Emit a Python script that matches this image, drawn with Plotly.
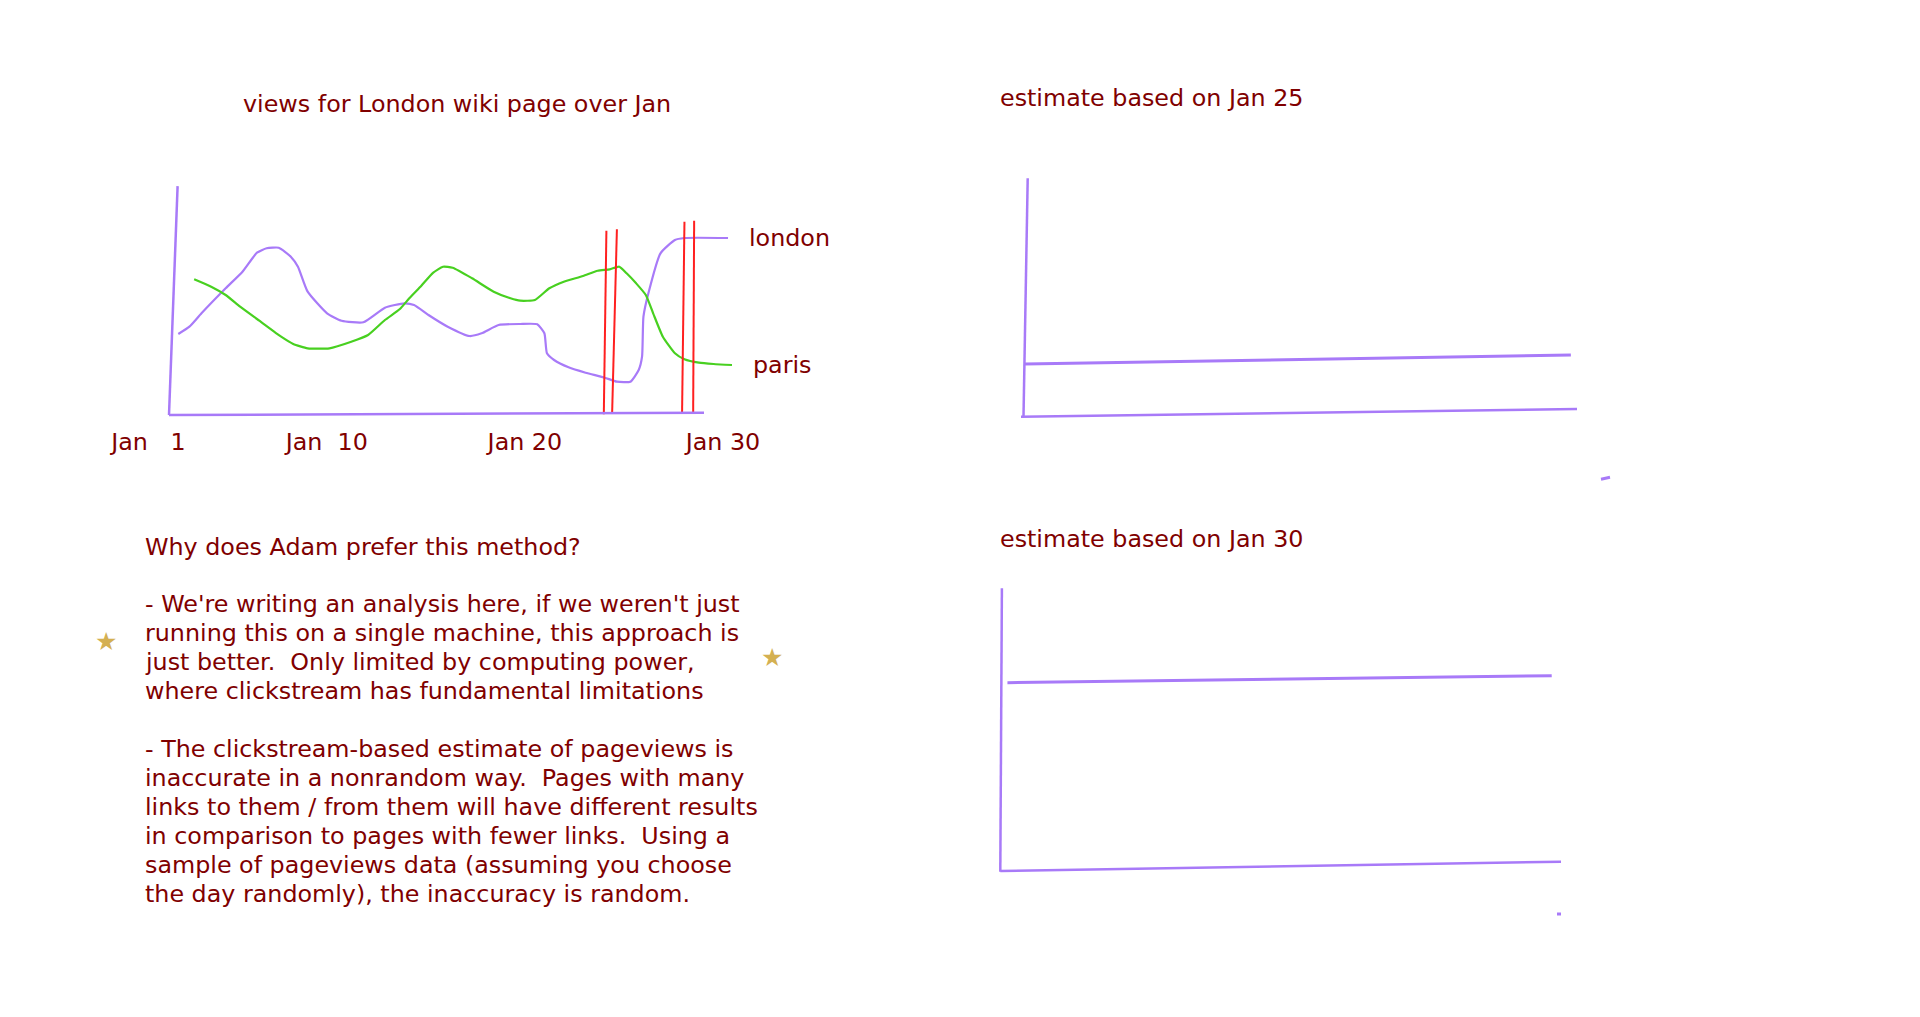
import plotly.graph_objects as go

W, H = 1920, 1017

# ---------------- data ----------------
london_day = [0.99, 1.55, 2.16, 3.38, 4.23, 4.96, 5.45, 6.06, 6.67, 7.03, 7.52, 8.50, 9.23,
              10.33, 11.42, 12.40, 12.89, 13.62, 14.59, 15.69, 16.30, 17.16, 18.25, 19.11,
              19.47, 19.60, 19.96, 20.69, 21.55, 22.52, 23.13, 23.81, 24.23, 24.40, 24.47,
              24.72, 25.33, 26.06, 26.54, 28.74]
london_views = [8.1, 8.83, 10.17, 12.67, 14.33, 16.23, 16.67, 16.73, 15.83, 14.83, 12.33, 10.17,
                9.43, 9.27, 10.73, 11.17, 11.0, 10.0, 8.83, 7.9, 8.17, 9.0, 9.1, 9.07, 8.17,
                6.17, 5.5, 4.77, 4.23, 3.73, 3.33, 3.33, 4.5, 5.83, 9.83, 12.17, 16.17, 17.5,
                17.7, 17.7]

paris_day = [1.79, 2.65, 3.38, 4.11, 5.08, 6.18, 6.79, 7.52, 8.62, 9.72, 10.57, 11.42, 12.16,
             12.65, 13.26, 13.86, 14.35, 14.84, 15.82, 16.91, 17.76, 18.25, 18.99, 19.72,
             20.45, 21.42, 22.16, 22.77, 23.25, 23.62, 24.10, 24.59, 24.96, 25.45, 26.06,
             26.54, 27.27, 28.01, 28.94]
paris_views = [13.57, 12.83, 12.0, 10.83, 9.43, 7.83, 7.1, 6.67, 6.67, 7.33, 8.0, 9.5, 10.57,
               11.67, 12.93, 14.23, 14.83, 14.73, 13.67, 12.33, 11.67, 11.43, 11.5, 12.67,
               13.33, 13.9, 14.43, 14.57, 14.83, 14.17, 13.17, 12.0, 10.17, 7.83, 6.17, 5.57,
               5.23, 5.1, 5.0]

sample_day_top = [22.60, 23.13, 26.54, 27.03]
sample_day_bottom = [22.47, 22.89, 26.42, 26.98]
sample_top = [18.43, 18.57, 19.33, 19.43]
sample_bottom = [0.07, 0.23, 0.17, 0.17]

tick_days = [1, 10, 20, 30]
tick_labels = ["Jan\u00a0\u00a0\u00a01", "Jan\u00a0\u00a010", "Jan 20", "Jan 30"]

est25_day = [1.21, 29.68]
est25_views = [5.27, 6.17]
est30_day = [1.37, 29.52]
est30_views = [18.9, 19.6]

title_main = "views for London wiki page over Jan"
title_25 = "estimate based on Jan 25"
title_30 = "estimate based on Jan 30"

note_lines = [
    "Why does Adam prefer this method?",
    "",
    "- We're writing an analysis here, if we weren't just",
    "running this on a single machine, this approach is",
    "just better.\u00a0 Only limited by computing power,",
    "where clickstream has fundamental limitations",
    "",
    "- The clickstream-based estimate of pageviews is",
    "inaccurate in a nonrandom way.\u00a0 Pages with many",
    "links to them / from them will have different results",
    "in comparison to pages with fewer links.\u00a0 Using a",
    "sample of pageviews data (assuming you choose",
    "the day randomly), the inaccuracy is random.",
]

# ---------------- styling ----------------
PURPLE = "rgb(168,122,248)"
GREEN = "rgb(72,208,32)"
RED = "rgb(255,32,32)"
TEXT = "#800000"
GOLD = "rgb(212,176,82)"
FONT = "DejaVu Sans"
FS = 23.8
FS_NOTE = 23.8


def fx(px):
    return px / W


def fy(py):
    return 1 - py / H


# left chart scale
L_DAY1, L_PPD, L_ZERO, L_PPV = 178.5, 19.81, 415.0, 10.0
def l_day(px): return 1 + (px - L_DAY1) / L_PPD
def l_view(py): return (L_ZERO - py) / L_PPV

# right chart 1 scale
A_X0, A_X1, A_ZERO = 1021.0, 1577.0, 416.7
def a_day(px): return 1 + 29 * (px - A_X0) / (A_X1 - A_X0)
def a_view(py): return (A_ZERO - py) / 10.0

# right chart 2 scale
B_X0, B_X1, B_ZERO = 1000.3, 1561.0, 871.7
def b_day(px): return 1 + 29 * (px - B_X0) / (B_X1 - B_X0)
def b_view(py): return (B_ZERO - py) / 10.0


fig = go.Figure()

line_kw = dict(mode="lines", hoverinfo="skip", showlegend=False)

fig.add_trace(go.Scatter(x=london_day, y=london_views, xaxis="x", yaxis="y",
                         line=dict(color=PURPLE, width=2.2, shape="spline", smoothing=0.5), **line_kw))
fig.add_trace(go.Scatter(x=paris_day, y=paris_views, xaxis="x", yaxis="y",
                         line=dict(color=GREEN, width=2.2, shape="spline", smoothing=0.5), **line_kw))

sx, sy = [], []
for t, b, vt, vb in zip(sample_day_top, sample_day_bottom, sample_top, sample_bottom):
    sx += [t, b, None]
    sy += [vt, vb, None]
fig.add_trace(go.Scatter(x=sx, y=sy, xaxis="x", yaxis="y",
                         line=dict(color=RED, width=2), **line_kw))

fig.add_trace(go.Scatter(x=est25_day, y=est25_views, xaxis="x2", yaxis="y2",
                         line=dict(color=PURPLE, width=3), **line_kw))
fig.add_trace(go.Scatter(x=est30_day, y=est30_views, xaxis="x3", yaxis="y3",
                         line=dict(color=PURPLE, width=3), **line_kw))

# hand-drawn axis frames
def seg(xref, yref, x0, y0, x1, y1, w=2.5):
    return dict(type="line", xref=xref, yref=yref, x0=x0, y0=y0, x1=x1, y1=y1,
                line=dict(color=PURPLE, width=w), layer="above")

shapes = [
    seg("x", "y", l_day(177.6), l_view(186.1), l_day(169), l_view(415)),
    seg("x", "y", l_day(169), l_view(415), l_day(704), l_view(412.7)),
    seg("x2", "y2", a_day(1027.7), a_view(178.3), a_day(1023.5), a_view(416.7)),
    seg("x2", "y2", a_day(1021), a_view(416.7), a_day(1577), a_view(409)),
    seg("x2", "y2", a_day(1601), a_view(479.3), a_day(1610), a_view(477.3), 3),
    seg("x3", "y3", b_day(1001.9), b_view(588.3), b_day(1000.3), b_view(871.7)),
    seg("x3", "y3", b_day(1000.3), b_view(871), b_day(1561), b_view(861.7)),
    seg("x3", "y3", b_day(1557), b_view(914), b_day(1561), b_view(914), 3),
]

font = dict(family=FONT, size=FS, color=TEXT)
note_font = dict(family=FONT, size=FS_NOTE, color=TEXT)
ann = []
ann.append(dict(text=title_main, x=fx(241), y=fy(104), xref="paper", yref="paper",
                xanchor="left", yanchor="middle", showarrow=False, font=font))
ann.append(dict(text=title_25, x=fx(998), y=fy(98.5), xref="paper", yref="paper",
                xanchor="left", yanchor="middle", showarrow=False, font=font))
ann.append(dict(text=title_30, x=fx(998), y=fy(538.5), xref="paper", yref="paper",
                xanchor="left", yanchor="middle", showarrow=False, font=font))
ann.append(dict(text="london", x=london_day[-1], y=london_views[-1], xref="x", yref="y",
                xanchor="left", yanchor="middle", xshift=19, showarrow=False, font=font))
ann.append(dict(text="paris", x=paris_day[-1], y=paris_views[-1], xref="x", yref="y",
                xanchor="left", yanchor="middle", xshift=19, showarrow=False, font=font))
for i, line in enumerate(note_lines):
    if line:
        ann.append(dict(text=line, x=fx(142.5), y=fy(546.5 + i * 28.98), xref="paper", yref="paper",
                        xanchor="left", yanchor="middle", showarrow=False, font=note_font))
for sxp, syp in [(106, 641), (772, 657)]:
    ann.append(dict(text="\u2605", x=fx(sxp), y=fy(syp), xref="paper", yref="paper",
                    xanchor="center", yanchor="middle", showarrow=False,
                    font=dict(family=FONT, size=25, color=GOLD)))

hidden = dict(visible=False, showgrid=False, zeroline=False, automargin=False)

fig.update_layout(
    width=W, height=H, autosize=False,
    margin=dict(l=0, r=0, t=0, b=0, pad=0, autoexpand=False),
    paper_bgcolor="white", plot_bgcolor="white",
    showlegend=False,
    xaxis=dict(domain=[fx(150), fx(780)], range=[l_day(150), l_day(780)],
               showgrid=False, zeroline=False, showline=False, ticks="", automargin=False,
               tickvals=tick_days, ticktext=tick_labels, ticklabelshift=-30,
               ticklabelstandoff=3,
               tickfont=dict(family=FONT, size=FS, color=TEXT), anchor="y"),
    yaxis=dict(domain=[fy(422), fy(180)], range=[l_view(422), l_view(180)], anchor="x", **hidden),
    xaxis2=dict(domain=[fx(990), fx(1640)], range=[a_day(990), a_day(1640)], anchor="y2", **hidden),
    yaxis2=dict(domain=[fy(500), fy(160)], range=[a_view(500), a_view(160)], anchor="x2", **hidden),
    xaxis3=dict(domain=[fx(980), fx(1600)], range=[b_day(980), b_day(1600)], anchor="y3", **hidden),
    yaxis3=dict(domain=[fy(930), fy(570)], range=[b_view(930), b_view(570)], anchor="x3", **hidden),
    shapes=shapes,
    annotations=ann,
)

fig.write_html("out.html")
